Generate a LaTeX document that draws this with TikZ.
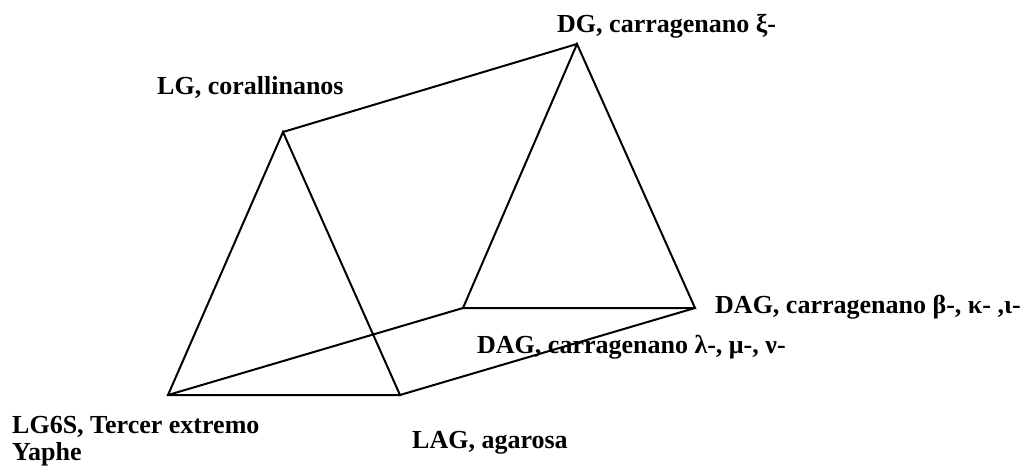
\documentclass[tikz,border=0pt]{standalone}
\usepackage{fontspec}
\setmainfont{Liberation Serif}
\begin{document}
\begin{tikzpicture}[x=1pt,y=-1pt,
  edge/.style={line width=2pt, line join=miter},
  lbl/.style={font=\fontsize{26}{27}\selectfont\bfseries, inner sep=0pt, anchor=base west, align=left}]
\useasboundingbox (0,0) rectangle (1036,468);
% vertices
\coordinate (A) at (168,395);
\coordinate (B) at (400,395);
\coordinate (C) at (283,132);
\coordinate (D) at (463,308);
\coordinate (E) at (695,308);
\coordinate (F) at (577,44);
% edges
\draw[edge] (A) -- (B) -- (C) -- cycle;
\draw[edge] (D) -- (E) -- (F) -- cycle;
\draw[edge] (A) -- (D);
\draw[edge] (B) -- (E);
\draw[edge] (C) -- (F);
% labels
\node[lbl] (lF) at (557,33) {DG, carragenano ξ-};
\node[lbl] (lC) at (157,95) {LG, corallinanos};
\node[lbl] (lA) at (12,460) {LG6S, Tercer extremo\\Yaphe};
\node[lbl] (lB) at (412,448) {LAG, agarosa};
\node[lbl] (lE) at (715,313) {DAG, carragenano β-, κ- ,ι-};
\node[lbl] (lD) at (477,353) {DAG, carragenano λ-, μ-, ν-};
\end{tikzpicture}
\end{document}
